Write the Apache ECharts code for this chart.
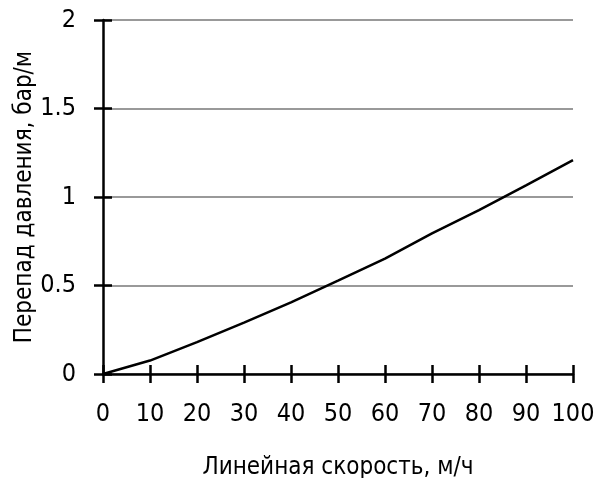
<!DOCTYPE html>
<html><head><meta charset="utf-8">
<script src="https://cdn.jsdelivr.net/npm/echarts@6/dist/echarts.min.js"></script>
<style>html,body{margin:0;padding:0;background:#fff}#c{width:594px;height:478px}</style>
</head><body><div id="c"></div>
<script>
const speed = [0, 10, 20, 30, 40, 50, 60, 70, 80, 90, 100];
const pressureDrop = [0, 0.076, 0.18, 0.29, 0.405, 0.527, 0.652, 0.794, 0.926, 1.066, 1.208];
const xTitle = 'Линейная скорость, м/ч';
const yTitle = 'Перепад давления, бар/м';
const FONT = '"Liberation Sans Narrow","Arial Narrow","DejaVu Sans Condensed",sans-serif';

const chart = echarts.init(document.getElementById('c'), null, {renderer: 'canvas'});
const axisLineStyle = {color: '#000', width: 2.5};
const labelStyle = {color: '#000', fontFamily: FONT, fontSize: 25};
const baseX = {type: 'value', min: 0, max: 100, interval: 10, position: 'bottom'};
const baseY = {type: 'value', min: 0, max: 2, interval: 0.5, position: 'left'};
chart.setOption({
  animation: false,
  grid: {left: 103, right: 21, top: 20, bottom: 104, containLabel: false, outerBoundsMode: 'none'},
  xAxis: [
    Object.assign({}, baseX, {
      name: xTitle, nameLocation: 'middle', nameGap: 82,
      nameTextStyle: {color: '#000', fontFamily: FONT, fontSize: 24},
      axisLine: {show: true, lineStyle: axisLineStyle},
      axisTick: {show: true, inside: false, length: 9, lineStyle: axisLineStyle},
      axisLabel: Object.assign({margin: 28}, labelStyle),
      splitLine: {show: false}
    }),
    Object.assign({}, baseX, {
      axisLine: {show: false},
      axisTick: {show: true, inside: true, length: 9, lineStyle: axisLineStyle},
      axisLabel: {show: false}, splitLine: {show: false}
    })
  ],
  yAxis: [
    Object.assign({}, baseY, {
      name: yTitle, nameLocation: 'middle', nameGap: 66, nameMoveOverlap: false,
      nameTextStyle: {color: '#000', fontFamily: FONT, fontSize: 24},
      axisLine: {show: true, lineStyle: axisLineStyle},
      axisTick: {show: true, inside: false, length: 9, lineStyle: axisLineStyle},
      axisLabel: Object.assign({margin: 27, formatter: v => String(v)}, labelStyle),
      splitLine: {show: true, lineStyle: {color: '#777', width: 1.5}}
    }),
    Object.assign({}, baseY, {
      axisLine: {show: false},
      axisTick: {show: true, inside: true, length: 9, lineStyle: axisLineStyle},
      axisLabel: {show: false}, splitLine: {show: false}
    })
  ],
  series: [{
    type: 'line',
    xAxisIndex: 0, yAxisIndex: 0,
    data: speed.map((x, i) => [x, pressureDrop[i]]),
    showSymbol: false,
    lineStyle: {color: '#000', width: 2.5},
    z: 5
  }]
});
</script></body></html>
